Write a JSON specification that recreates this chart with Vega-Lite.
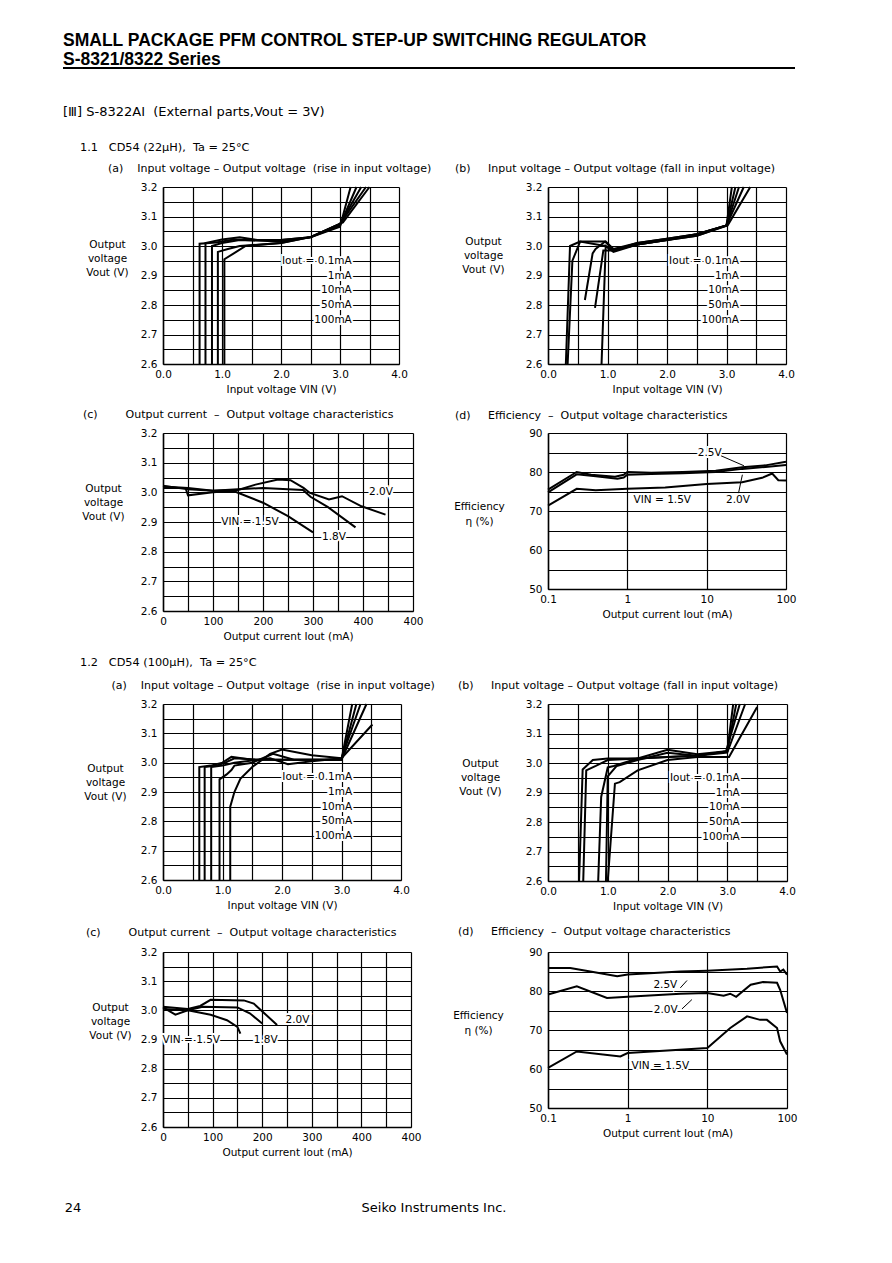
{
"$schema": "https://vega.github.io/schema/vega-lite/v6.json",
"background": "white",
"padding": {"left": 63, "top": 32, "right": 20, "bottom": 20},
"title": {"text": "SMALL PACKAGE PFM CONTROL STEP-UP SWITCHING REGULATOR", "subtitle": "S-8321/8322 Series", "anchor": "start", "frame": "group", "font": "Liberation Sans", "fontSize": 17.5, "fontWeight": "bold", "subtitleFontSize": 17.5, "subtitleFontWeight": "bold", "subtitleColor": "black", "subtitleFont": "Liberation Sans", "subtitlePadding": 1, "offset": -1},
"config": {
  "view": {"stroke": null},
  "font": "DejaVu Sans",
  "axis": {"domainColor": "black", "domainWidth": 1.5, "grid": true, "gridColor": "black", "gridOpacity": 1, "gridWidth": 1.2, "ticks": false, "labelColor": "black", "labelFont": "DejaVu Sans", "labelFontSize": 10.5, "labelFlush": false, "labelOverlap": false, "labelPadding": 5, "titleColor": "black", "titleFont": "DejaVu Sans", "titleFontSize": 10.5, "titleFontWeight": "normal", "titlePadding": 5},
  "axisY": {"labelPadding": 6},
  "title": {"anchor": "start", "frame": "group", "color": "black", "font": "DejaVu Sans", "fontSize": 11, "fontWeight": "normal", "offset": 8, "subtitleColor": "black", "subtitleFont": "DejaVu Sans", "subtitleFontSize": 11},
  "text": {"color": "black", "fontSize": 10.5, "font": "DejaVu Sans"},
  "line": {"color": "black", "strokeWidth": 2},
  "rule": {"color": "black"}
},
"datasets": {
  "c11a": [
    {"s":"0.1mA","i":0,"x":0.62,"y":2.6},{"s":"0.1mA","i":1,"x":0.62,"y":3.008},{"s":"0.1mA","i":2,"x":0.9,"y":3.012},{"s":"0.1mA","i":3,"x":1.2,"y":3.022},{"s":"0.1mA","i":4,"x":1.5,"y":3.02},{"s":"0.1mA","i":5,"x":2.0,"y":3.02},{"s":"0.1mA","i":6,"x":2.5,"y":3.03},{"s":"0.1mA","i":7,"x":3.0,"y":3.065},{"s":"0.1mA","i":8,"x":3.18,"y":3.2},
    {"s":"1mA","i":0,"x":0.72,"y":2.6},{"s":"1mA","i":1,"x":0.72,"y":3.01},{"s":"1mA","i":2,"x":1.0,"y":3.022},{"s":"1mA","i":3,"x":1.3,"y":3.03},{"s":"1mA","i":4,"x":1.6,"y":3.02},{"s":"1mA","i":5,"x":2.0,"y":3.02},{"s":"1mA","i":6,"x":2.5,"y":3.03},{"s":"1mA","i":7,"x":3.0,"y":3.07},{"s":"1mA","i":8,"x":3.28,"y":3.2},
    {"s":"10mA","i":0,"x":0.83,"y":2.6},{"s":"10mA","i":1,"x":0.83,"y":3.0},{"s":"10mA","i":2,"x":1.0,"y":3.01},{"s":"10mA","i":3,"x":1.3,"y":3.02},{"s":"10mA","i":4,"x":2.0,"y":3.015},{"s":"10mA","i":5,"x":2.5,"y":3.03},{"s":"10mA","i":6,"x":3.0,"y":3.075},{"s":"10mA","i":7,"x":3.36,"y":3.2},
    {"s":"50mA","i":0,"x":0.93,"y":2.6},{"s":"50mA","i":1,"x":0.93,"y":2.98},{"s":"50mA","i":2,"x":1.1,"y":2.99},{"s":"50mA","i":3,"x":1.3,"y":3.0},{"s":"50mA","i":4,"x":2.0,"y":3.01},{"s":"50mA","i":5,"x":2.5,"y":3.03},{"s":"50mA","i":6,"x":3.0,"y":3.075},{"s":"50mA","i":7,"x":3.44,"y":3.2},
    {"s":"100mA","i":0,"x":1.04,"y":2.6},{"s":"100mA","i":1,"x":1.04,"y":2.955},{"s":"100mA","i":2,"x":1.2,"y":2.975},{"s":"100mA","i":3,"x":1.4,"y":3.0},{"s":"100mA","i":4,"x":2.0,"y":3.01},{"s":"100mA","i":5,"x":2.5,"y":3.03},{"s":"100mA","i":6,"x":3.05,"y":3.08},{"s":"100mA","i":7,"x":3.5,"y":3.2}
  ],
  "c11a_lab": [
    {"t":"Iout = 0.1mA","x":3.2,"y":2.95},{"t":"1mA","x":3.2,"y":2.9},{"t":"10mA","x":3.2,"y":2.85},{"t":"50mA","x":3.2,"y":2.8},{"t":"100mA","x":3.2,"y":2.75}
  ],
  "c11b": [
    {"s":"0.1mA","i":0,"x":3.09,"y":3.2},{"s":"0.1mA","i":1,"x":3.0,"y":3.07},{"s":"0.1mA","i":2,"x":2.5,"y":3.04},{"s":"0.1mA","i":3,"x":2.0,"y":3.025},{"s":"0.1mA","i":4,"x":1.5,"y":3.01},{"s":"0.1mA","i":5,"x":1.1,"y":2.99},{"s":"0.1mA","i":6,"x":0.97,"y":3.015},{"s":"0.1mA","i":7,"x":0.54,"y":3.015},{"s":"0.1mA","i":8,"x":0.37,"y":3.0},{"s":"0.1mA","i":9,"x":0.3,"y":2.6},
    {"s":"1mA","i":0,"x":3.15,"y":3.2},{"s":"1mA","i":1,"x":3.0,"y":3.07},{"s":"1mA","i":2,"x":2.5,"y":3.04},{"s":"1mA","i":3,"x":2.0,"y":3.025},{"s":"1mA","i":4,"x":1.5,"y":3.01},{"s":"1mA","i":5,"x":1.1,"y":2.985},{"s":"1mA","i":6,"x":0.96,"y":3.0},{"s":"1mA","i":7,"x":0.54,"y":3.015},{"s":"1mA","i":8,"x":0.41,"y":2.95},{"s":"1mA","i":9,"x":0.33,"y":2.6},
    {"s":"10mA","i":0,"x":3.21,"y":3.2},{"s":"10mA","i":1,"x":3.0,"y":3.07},{"s":"10mA","i":2,"x":2.5,"y":3.04},{"s":"10mA","i":3,"x":2.0,"y":3.02},{"s":"10mA","i":4,"x":1.5,"y":3.005},{"s":"10mA","i":5,"x":1.1,"y":2.985},{"s":"10mA","i":6,"x":0.96,"y":3.015},{"s":"10mA","i":7,"x":0.8,"y":2.99},{"s":"10mA","i":8,"x":0.75,"y":2.975},{"s":"10mA","i":9,"x":0.62,"y":2.817},
    {"s":"50mA","i":0,"x":3.29,"y":3.2},{"s":"50mA","i":1,"x":3.0,"y":3.07},{"s":"50mA","i":2,"x":2.5,"y":3.035},{"s":"50mA","i":3,"x":2.0,"y":3.02},{"s":"50mA","i":4,"x":1.5,"y":3.005},{"s":"50mA","i":5,"x":1.1,"y":2.985},{"s":"50mA","i":6,"x":0.93,"y":2.985},{"s":"50mA","i":7,"x":0.79,"y":2.79},
    {"s":"100mA","i":0,"x":3.4,"y":3.2},{"s":"100mA","i":1,"x":3.02,"y":3.07},{"s":"100mA","i":2,"x":2.5,"y":3.035},{"s":"100mA","i":3,"x":2.0,"y":3.02},{"s":"100mA","i":4,"x":1.5,"y":3.005},{"s":"100mA","i":5,"x":1.1,"y":2.98},{"s":"100mA","i":6,"x":0.97,"y":3.0},{"s":"100mA","i":7,"x":0.9,"y":2.6}
  ],
  "c11b_lab": [
    {"t":"Iout = 0.1mA","x":3.21,"y":2.95},{"t":"1mA","x":3.21,"y":2.9},{"t":"10mA","x":3.21,"y":2.85},{"t":"50mA","x":3.21,"y":2.8},{"t":"100mA","x":3.21,"y":2.75}
  ],
  "c11c": [
    {"s":"1.5V","i":0,"x":0,"y":3.015},{"s":"1.5V","i":1,"x":45,"y":3.015},{"s":"1.5V","i":2,"x":50,"y":2.99},{"s":"1.5V","i":3,"x":100,"y":3.0},{"s":"1.5V","i":4,"x":140,"y":3.005},{"s":"1.5V","i":5,"x":200,"y":2.965},{"s":"1.5V","i":6,"x":250,"y":2.92},{"s":"1.5V","i":7,"x":300,"y":2.865},
    {"s":"1.8V","i":0,"x":0,"y":3.02},{"s":"1.8V","i":1,"x":50,"y":3.015},{"s":"1.8V","i":2,"x":100,"y":3.005},{"s":"1.8V","i":3,"x":150,"y":3.01},{"s":"1.8V","i":4,"x":200,"y":3.015},{"s":"1.8V","i":5,"x":250,"y":3.01},{"s":"1.8V","i":6,"x":280,"y":3.008},{"s":"1.8V","i":7,"x":295,"y":2.985},{"s":"1.8V","i":8,"x":330,"y":2.95},{"s":"1.8V","i":9,"x":385,"y":2.882},
    {"s":"2.0V","i":0,"x":0,"y":3.022},{"s":"2.0V","i":1,"x":50,"y":3.01},{"s":"2.0V","i":2,"x":100,"y":3.005},{"s":"2.0V","i":3,"x":150,"y":3.008},{"s":"2.0V","i":4,"x":185,"y":3.026},{"s":"2.0V","i":5,"x":230,"y":3.043},{"s":"2.0V","i":6,"x":255,"y":3.041},{"s":"2.0V","i":7,"x":281,"y":3.015},{"s":"2.0V","i":8,"x":294,"y":2.998},{"s":"2.0V","i":9,"x":332,"y":2.976},{"s":"2.0V","i":10,"x":358,"y":2.987},{"s":"2.0V","i":11,"x":397,"y":2.953},{"s":"2.0V","i":12,"x":445,"y":2.925}
  ],
  "c11c_lab": [
    {"t":"2.0V","x":436,"y":3.0},{"t":"VIN = 1.5V","x":174,"y":2.9},{"t":"1.8V","x":342,"y":2.85}
  ],
  "c11d": [
    {"s":"2.5V","i":0,"x":0.1,"y":75.5},{"s":"2.5V","i":1,"x":0.23,"y":80.0},{"s":"2.5V","i":2,"x":0.35,"y":79.3},{"s":"2.5V","i":3,"x":0.7,"y":78.8},{"s":"2.5V","i":4,"x":0.9,"y":79.3},{"s":"2.5V","i":5,"x":1.0,"y":80.0},{"s":"2.5V","i":6,"x":2,"y":79.8},{"s":"2.5V","i":7,"x":5,"y":80.0},{"s":"2.5V","i":8,"x":13,"y":80.3},{"s":"2.5V","i":9,"x":28,"y":81.2},{"s":"2.5V","i":10,"x":55,"y":81.7},{"s":"2.5V","i":11,"x":100,"y":82.6},
    {"s":"2.0V","i":0,"x":0.1,"y":74.8},{"s":"2.0V","i":1,"x":0.23,"y":79.4},{"s":"2.0V","i":2,"x":0.4,"y":78.9},{"s":"2.0V","i":3,"x":0.75,"y":78.3},{"s":"2.0V","i":4,"x":0.9,"y":78.6},{"s":"2.0V","i":5,"x":1.0,"y":79.3},{"s":"2.0V","i":6,"x":2,"y":79.5},{"s":"2.0V","i":7,"x":5,"y":79.7},{"s":"2.0V","i":8,"x":13,"y":80.0},{"s":"2.0V","i":9,"x":28,"y":80.8},{"s":"2.0V","i":10,"x":55,"y":81.3},{"s":"2.0V","i":11,"x":100,"y":81.8},
    {"s":"1.5V","i":0,"x":0.1,"y":71.4},{"s":"1.5V","i":1,"x":0.23,"y":75.7},{"s":"1.5V","i":2,"x":0.4,"y":75.3},{"s":"1.5V","i":3,"x":1.0,"y":75.7},{"s":"1.5V","i":4,"x":3,"y":76.0},{"s":"1.5V","i":5,"x":10,"y":76.9},{"s":"1.5V","i":6,"x":28,"y":77.4},{"s":"1.5V","i":7,"x":50,"y":78.5},{"s":"1.5V","i":8,"x":67,"y":79.6},{"s":"1.5V","i":9,"x":80,"y":77.9},{"s":"1.5V","i":10,"x":100,"y":77.8}
  ],
  "c11d_lab": [
    {"t":"2.5V","x":10.9,"y":85},{"t":"2.0V","x":24.8,"y":72.9},{"t":"VIN = 1.5V","x":2.76,"y":72.7}
  ],
  "c11d_lead": [
    {"x":15,"y":84.2,"x2":29.5,"y2":81.6},{"x":25.1,"y":74.4,"x2":28.2,"y2":79.3}
  ],
  "c12a": [
    {"s":"0.1mA","i":0,"x":0.61,"y":2.6},{"s":"0.1mA","i":1,"x":0.61,"y":2.985},{"s":"0.1mA","i":2,"x":0.8,"y":2.99},{"s":"0.1mA","i":3,"x":1.0,"y":3.0},{"s":"0.1mA","i":4,"x":1.15,"y":3.02},{"s":"0.1mA","i":5,"x":1.5,"y":3.01},{"s":"0.1mA","i":6,"x":2.0,"y":3.01},{"s":"0.1mA","i":7,"x":2.5,"y":3.01},{"s":"0.1mA","i":8,"x":3.0,"y":3.01},{"s":"0.1mA","i":9,"x":3.18,"y":3.2},
    {"s":"1mA","i":0,"x":0.7,"y":2.6},{"s":"1mA","i":1,"x":0.7,"y":2.985},{"s":"1mA","i":2,"x":0.9,"y":2.99},{"s":"1mA","i":3,"x":1.05,"y":3.0},{"s":"1mA","i":4,"x":1.2,"y":3.015},{"s":"1mA","i":5,"x":1.6,"y":3.01},{"s":"1mA","i":6,"x":2.5,"y":3.01},{"s":"1mA","i":7,"x":3.0,"y":3.01},{"s":"1mA","i":8,"x":3.25,"y":3.2},
    {"s":"10mA","i":0,"x":0.81,"y":2.6},{"s":"10mA","i":1,"x":0.81,"y":2.985},{"s":"10mA","i":2,"x":1.0,"y":2.99},{"s":"10mA","i":3,"x":1.2,"y":3.0},{"s":"10mA","i":4,"x":1.6,"y":3.01},{"s":"10mA","i":5,"x":1.8,"y":3.015},{"s":"10mA","i":6,"x":2.1,"y":2.995},{"s":"10mA","i":7,"x":2.5,"y":3.005},{"s":"10mA","i":8,"x":3.0,"y":3.015},{"s":"10mA","i":9,"x":3.32,"y":3.2},
    {"s":"50mA","i":0,"x":0.95,"y":2.6},{"s":"50mA","i":1,"x":0.95,"y":2.943},{"s":"50mA","i":2,"x":1.07,"y":2.96},{"s":"50mA","i":3,"x":1.15,"y":2.975},{"s":"50mA","i":4,"x":1.2,"y":2.99},{"s":"50mA","i":5,"x":1.5,"y":3.0},{"s":"50mA","i":6,"x":1.85,"y":3.03},{"s":"50mA","i":7,"x":2.2,"y":3.01},{"s":"50mA","i":8,"x":3.0,"y":3.01},{"s":"50mA","i":9,"x":3.42,"y":3.2},
    {"s":"100mA","i":0,"x":1.13,"y":2.6},{"s":"100mA","i":1,"x":1.13,"y":2.85},{"s":"100mA","i":2,"x":1.2,"y":2.9},{"s":"100mA","i":3,"x":1.3,"y":2.945},{"s":"100mA","i":4,"x":1.5,"y":2.985},{"s":"100mA","i":5,"x":1.8,"y":3.03},{"s":"100mA","i":6,"x":2.0,"y":3.045},{"s":"100mA","i":7,"x":2.5,"y":3.025},{"s":"100mA","i":8,"x":3.0,"y":3.015},{"s":"100mA","i":9,"x":3.52,"y":3.13}
  ],
  "c12a_lab": [
    {"t":"Iout = 0.1mA","x":3.18,"y":2.95},{"t":"1mA","x":3.18,"y":2.9},{"t":"10mA","x":3.18,"y":2.85},{"t":"50mA","x":3.18,"y":2.8},{"t":"100mA","x":3.18,"y":2.75}
  ],
  "c12b": [
    {"s":"0.1mA","i":0,"x":3.1,"y":3.2},{"s":"0.1mA","i":1,"x":3.0,"y":3.04},{"s":"0.1mA","i":2,"x":2.5,"y":3.025},{"s":"0.1mA","i":3,"x":2.0,"y":3.02},{"s":"0.1mA","i":4,"x":1.5,"y":3.015},{"s":"0.1mA","i":5,"x":1.0,"y":3.015},{"s":"0.1mA","i":6,"x":0.75,"y":3.01},{"s":"0.1mA","i":7,"x":0.58,"y":2.978},{"s":"0.1mA","i":8,"x":0.52,"y":2.6},
    {"s":"1mA","i":0,"x":3.15,"y":3.2},{"s":"1mA","i":1,"x":3.0,"y":3.04},{"s":"1mA","i":2,"x":2.5,"y":3.025},{"s":"1mA","i":3,"x":2.0,"y":3.02},{"s":"1mA","i":4,"x":1.5,"y":3.015},{"s":"1mA","i":5,"x":1.0,"y":3.01},{"s":"1mA","i":6,"x":0.8,"y":2.99},{"s":"1mA","i":7,"x":0.64,"y":2.975},{"s":"1mA","i":8,"x":0.59,"y":2.6},
    {"s":"10mA","i":0,"x":3.21,"y":3.2},{"s":"10mA","i":1,"x":2.98,"y":3.04},{"s":"10mA","i":2,"x":2.5,"y":3.03},{"s":"10mA","i":3,"x":2.0,"y":3.045},{"s":"10mA","i":4,"x":1.5,"y":3.015},{"s":"10mA","i":5,"x":1.1,"y":2.99},{"s":"10mA","i":6,"x":1.0,"y":2.985},{"s":"10mA","i":7,"x":0.89,"y":2.885},{"s":"10mA","i":8,"x":0.84,"y":2.6},
    {"s":"50mA","i":0,"x":3.3,"y":3.2},{"s":"50mA","i":1,"x":3.0,"y":3.035},{"s":"50mA","i":2,"x":2.5,"y":3.025},{"s":"50mA","i":3,"x":2.0,"y":3.035},{"s":"50mA","i":4,"x":1.5,"y":3.01},{"s":"50mA","i":5,"x":1.15,"y":2.99},{"s":"50mA","i":6,"x":1.0,"y":2.955},{"s":"50mA","i":7,"x":0.97,"y":2.6},
    {"s":"100mA","i":0,"x":3.5,"y":3.19},{"s":"100mA","i":1,"x":3.03,"y":3.02},{"s":"100mA","i":2,"x":2.5,"y":3.02},{"s":"100mA","i":3,"x":2.0,"y":3.01},{"s":"100mA","i":4,"x":1.5,"y":2.975},{"s":"100mA","i":5,"x":1.2,"y":2.935},{"s":"100mA","i":6,"x":1.12,"y":2.93},{"s":"100mA","i":7,"x":1.0,"y":2.6}
  ],
  "c12b_lab": [
    {"t":"Iout = 0.1mA","x":3.21,"y":2.95},{"t":"1mA","x":3.21,"y":2.9},{"t":"10mA","x":3.21,"y":2.85},{"t":"50mA","x":3.21,"y":2.8},{"t":"100mA","x":3.21,"y":2.75}
  ],
  "c12c": [
    {"s":"1.5V","i":0,"x":0,"y":3.005},{"s":"1.5V","i":1,"x":50,"y":3.0},{"s":"1.5V","i":2,"x":96,"y":2.985},{"s":"1.5V","i":3,"x":129,"y":2.966},{"s":"1.5V","i":4,"x":150,"y":2.943},{"s":"1.5V","i":5,"x":156,"y":2.92},
    {"s":"1.8V","i":0,"x":0,"y":3.01},{"s":"1.8V","i":1,"x":25,"y":2.985},{"s":"1.8V","i":2,"x":50,"y":3.0},{"s":"1.8V","i":3,"x":80,"y":3.012},{"s":"1.8V","i":4,"x":150,"y":3.01},{"s":"1.8V","i":5,"x":175,"y":2.99},{"s":"1.8V","i":6,"x":200,"y":2.955},
    {"s":"2.0V","i":0,"x":0,"y":3.012},{"s":"2.0V","i":1,"x":50,"y":3.005},{"s":"2.0V","i":2,"x":75,"y":3.015},{"s":"2.0V","i":3,"x":96,"y":3.036},{"s":"2.0V","i":4,"x":163,"y":3.034},{"s":"2.0V","i":5,"x":183,"y":3.023},{"s":"2.0V","i":6,"x":230,"y":2.95}
  ],
  "c12c_lab": [
    {"t":"2.0V","x":271,"y":2.966},{"t":"VIN = 1.5V","x":57,"y":2.9},{"t":"1.8V","x":207,"y":2.9}
  ],
  "c12d": [
    {"s":"2.5V","i":0,"x":0.1,"y":85.9},{"s":"2.5V","i":1,"x":0.19,"y":85.9},{"s":"2.5V","i":2,"x":0.34,"y":85.0},{"s":"2.5V","i":3,"x":0.74,"y":83.8},{"s":"2.5V","i":4,"x":1.0,"y":84.2},{"s":"2.5V","i":5,"x":4.6,"y":85.0},{"s":"2.5V","i":6,"x":10,"y":85.2},{"s":"2.5V","i":7,"x":31.5,"y":85.7},{"s":"2.5V","i":8,"x":75,"y":86.3},{"s":"2.5V","i":9,"x":82,"y":85.0},{"s":"2.5V","i":10,"x":90,"y":85.5},{"s":"2.5V","i":11,"x":100,"y":84.2},
    {"s":"2.0V","i":0,"x":0.1,"y":79.1},{"s":"2.0V","i":1,"x":0.23,"y":81.2},{"s":"2.0V","i":2,"x":0.55,"y":78.2},{"s":"2.0V","i":3,"x":1.0,"y":78.5},{"s":"2.0V","i":4,"x":4.6,"y":79.3},{"s":"2.0V","i":5,"x":10,"y":79.5},{"s":"2.0V","i":6,"x":16,"y":78.8},{"s":"2.0V","i":7,"x":19.4,"y":79.3},{"s":"2.0V","i":8,"x":23,"y":78.5},{"s":"2.0V","i":9,"x":35,"y":81.6},{"s":"2.0V","i":10,"x":50,"y":82.3},{"s":"2.0V","i":11,"x":75,"y":82.1},{"s":"2.0V","i":12,"x":82,"y":80.3},{"s":"2.0V","i":13,"x":100,"y":74.4},
    {"s":"1.5V","i":0,"x":0.1,"y":60.3},{"s":"1.5V","i":1,"x":0.23,"y":64.5},{"s":"1.5V","i":2,"x":0.81,"y":63.2},{"s":"1.5V","i":3,"x":1.0,"y":64.1},{"s":"1.5V","i":4,"x":10,"y":65.4},{"s":"1.5V","i":5,"x":19.4,"y":70.5},{"s":"1.5V","i":6,"x":31.5,"y":73.5},{"s":"1.5V","i":7,"x":46,"y":72.6},{"s":"1.5V","i":8,"x":56,"y":72.6},{"s":"1.5V","i":9,"x":75,"y":70.5},{"s":"1.5V","i":10,"x":82,"y":67.1},{"s":"1.5V","i":11,"x":100,"y":63.7}
  ],
  "c12d_lab": [
    {"t":"2.5V","x":2.97,"y":81.6},{"t":"2.0V","x":3.0,"y":75.2},{"t":"VIN = 1.5V","x":2.57,"y":60.7}
  ],
  "c12d_lead": [
    {"x":4.58,"y":80.8,"x2":5.56,"y2":82.7},{"x":4.8,"y":75.4,"x2":6.4,"y2":77.8}
  ]
},
"bounds": "flush",
"spacing": 100,
"hconcat": [
  {"bounds": "flush", "spacing": 0, "vconcat": [
    {"width": 732, "height": 2,
     "title": {"text": "[Ⅲ] S-8322AI\u00a0\u00a0(External parts,Vout = 3V)", "orient": "bottom", "offset": 37, "fontSize": 13},
     "data": {"values": [{}]}, "mark": {"type": "rect", "color": "black"}, "encoding": {}},
    {"width": 1, "height": 1130, "data": {"values": []}, "mark": "point", "encoding": {}},
    {"width": 20, "height": 18, "data": {"values": [{"t": "24"}]}, "mark": {"type": "text", "fontSize": 13}, "encoding": {"text": {"field": "t"}}}
  ]},
  {"bounds": "flush", "spacing": 385, "hconcat": [
    {"bounds": "flush", "spacing": 0, "vconcat": [
      {"width": 1, "height": 120, "data": {"values": []}, "mark": "point", "encoding": {}},
      {"width": 236, "height": 177,
       "title": {"text": "1.1\u00a0\u00a0\u00a0CD54 (22µH),\u00a0\u00a0Ta = 25°C", "subtitle": "\u200b\u00a0\u00a0\u00a0\u00a0\u00a0\u00a0\u00a0\u00a0(a)\u00a0\u00a0\u00a0\u00a0Input voltage\u00a0–\u00a0Output voltage\u00a0\u00a0(rise in input voltage)", "dx": -83, "fontSize": 11.3, "subtitlePadding": 10},
       "data": {"name": "c11a"},
       "encoding": {
         "x": {"field": "x", "type": "quantitative", "scale": {"domain": [0, 4], "nice": false}, "axis": {"values": [0,0.5,1,1.5,2,2.5,3,3.5,4], "labelExpr": "datum.value % 1 === 0 ? format(datum.value, '.1f') : ''", "title": "Input voltage  VIN (V)"}},
         "y": {"field": "y", "type": "quantitative", "scale": {"domain": [2.6, 3.2], "nice": false, "zero": false}, "axis": {"values": [2.6,2.65,2.7,2.75,2.8,2.85,2.9,2.95,3.0,3.05,3.1,3.15,3.2], "labelExpr": "abs(datum.value*10 - round(datum.value*10)) < 0.01 ? format(datum.value, '.1f') : ''", "title": ["Output", "voltage", "Vout (V)"], "titleAngle": 0, "titleAlign": "center", "titleBaseline": "top", "titleX": -56, "titleY": 52, "titleLineHeight": 14}}
       },
       "layer": [
         {"mark": {"type": "line"}, "encoding": {"detail": {"field": "s"}, "order": {"field": "i"}}},
         {"data": {"name": "c11a_lab"}, "mark": {"type": "text", "align": "right", "fill": "white", "stroke": "white", "strokeWidth": 4}, "encoding": {"text": {"field": "t"}}},
         {"data": {"name": "c11a_lab"}, "mark": {"type": "text", "align": "right"}, "encoding": {"text": {"field": "t"}}}
       ]
      },
      {"width": 1, "height": 69, "data": {"values": []}, "mark": "point", "encoding": {}},
      {"width": 250, "height": 178,
       "title": {"text": "(c)\u00a0\u00a0\u00a0\u00a0\u00a0\u00a0\u00a0\u00a0Output current\u00a0\u00a0–\u00a0\u00a0Output voltage characteristics", "dx": -80},
       "data": {"name": "c11c"},
       "encoding": {
         "x": {"field": "x", "type": "quantitative", "scale": {"domain": [0, 500], "nice": false}, "axis": {"values": [0,50,100,150,200,250,300,350,400,450,500], "labelExpr": "datum.value === 500 ? '400' : (datum.value % 100 === 0 ? format(datum.value, 'd') : '')", "title": "Output current  Iout (mA)"}},
         "y": {"field": "y", "type": "quantitative", "scale": {"domain": [2.6, 3.2], "nice": false, "zero": false}, "axis": {"values": [2.6,2.65,2.7,2.75,2.8,2.85,2.9,2.95,3.0,3.05,3.1,3.15,3.2], "labelExpr": "abs(datum.value*10 - round(datum.value*10)) < 0.01 ? format(datum.value, '.1f') : ''", "title": ["Output", "voltage", "Vout (V)"], "titleAngle": 0, "titleAlign": "center", "titleBaseline": "top", "titleX": -60, "titleY": 50, "titleLineHeight": 14}}
       },
       "layer": [
         {"mark": {"type": "line"}, "encoding": {"detail": {"field": "s"}, "order": {"field": "i"}}},
         {"data": {"name": "c11c_lab"}, "mark": {"type": "text", "fill": "white", "stroke": "white", "strokeWidth": 4}, "encoding": {"text": {"field": "t"}}},
         {"data": {"name": "c11c_lab"}, "mark": {"type": "text"}, "encoding": {"text": {"field": "t"}}}
       ]
      },
      {"width": 1, "height": 93, "data": {"values": []}, "mark": "point", "encoding": {}},
      {"width": 238, "height": 176,
       "title": {"text": "1.2\u00a0\u00a0\u00a0CD54 (100µH),\u00a0\u00a0Ta = 25°C", "subtitle": "\u200b\u00a0\u00a0\u00a0\u00a0\u00a0\u00a0\u00a0\u00a0\u00a0(a)\u00a0\u00a0\u00a0\u00a0Input voltage\u00a0–\u00a0Output voltage\u00a0\u00a0(rise in input voltage)", "dx": -83, "fontSize": 11.3, "subtitlePadding": 12},
       "data": {"name": "c12a"},
       "encoding": {
         "x": {"field": "x", "type": "quantitative", "scale": {"domain": [0, 4], "nice": false}, "axis": {"values": [0,0.5,1,1.5,2,2.5,3,3.5,4], "labelExpr": "datum.value % 1 === 0 ? format(datum.value, '.1f') : ''", "title": "Input voltage  VIN (V)"}},
         "y": {"field": "y", "type": "quantitative", "scale": {"domain": [2.6, 3.2], "nice": false, "zero": false}, "axis": {"values": [2.6,2.65,2.7,2.75,2.8,2.85,2.9,2.95,3.0,3.05,3.1,3.15,3.2], "labelExpr": "abs(datum.value*10 - round(datum.value*10)) < 0.01 ? format(datum.value, '.1f') : ''", "title": ["Output", "voltage", "Vout (V)"], "titleAngle": 0, "titleAlign": "center", "titleBaseline": "top", "titleX": -58, "titleY": 59, "titleLineHeight": 14}}
       },
       "layer": [
         {"mark": {"type": "line"}, "encoding": {"detail": {"field": "s"}, "order": {"field": "i"}}},
         {"data": {"name": "c12a_lab"}, "mark": {"type": "text", "align": "right", "fill": "white", "stroke": "white", "strokeWidth": 4}, "encoding": {"text": {"field": "t"}}},
         {"data": {"name": "c12a_lab"}, "mark": {"type": "text", "align": "right"}, "encoding": {"text": {"field": "t"}}}
       ]
      },
      {"width": 1, "height": 72, "data": {"values": []}, "mark": "point", "encoding": {}},
      {"width": 248, "height": 175,
       "title": {"text": "(c)\u00a0\u00a0\u00a0\u00a0\u00a0\u00a0\u00a0\u00a0Output current\u00a0\u00a0–\u00a0\u00a0Output voltage characteristics", "dx": -77, "offset": 9},
       "data": {"name": "c12c"},
       "encoding": {
         "x": {"field": "x", "type": "quantitative", "scale": {"domain": [0, 500], "nice": false}, "axis": {"values": [0,50,100,150,200,250,300,350,400,450,500], "labelExpr": "datum.value === 500 ? '400' : (datum.value % 100 === 0 ? format(datum.value, 'd') : '')", "title": "Output current  Iout (mA)"}},
         "y": {"field": "y", "type": "quantitative", "scale": {"domain": [2.6, 3.2], "nice": false, "zero": false}, "axis": {"values": [2.6,2.65,2.7,2.75,2.8,2.85,2.9,2.95,3.0,3.05,3.1,3.15,3.2], "labelExpr": "abs(datum.value*10 - round(datum.value*10)) < 0.01 ? format(datum.value, '.1f') : ''", "title": ["Output", "voltage", "Vout (V)"], "titleAngle": 0, "titleAlign": "center", "titleBaseline": "top", "titleX": -53, "titleY": 50, "titleLineHeight": 14}}
       },
       "layer": [
         {"mark": {"type": "line"}, "encoding": {"detail": {"field": "s"}, "order": {"field": "i"}}},
         {"data": {"name": "c12c_lab"}, "mark": {"type": "text", "fill": "white", "stroke": "white", "strokeWidth": 4}, "encoding": {"text": {"field": "t"}}},
         {"data": {"name": "c12c_lab"}, "mark": {"type": "text"}, "encoding": {"text": {"field": "t"}}}
       ]
      },
      {"width": 1, "height": 72, "data": {"values": []}, "mark": "point", "encoding": {}},
      {"width": 542, "height": 18, "data": {"values": [{"t": "Seiko Instruments Inc."}]}, "mark": {"type": "text", "fontSize": 13}, "encoding": {"text": {"field": "t"}}}
    ]},
    {"bounds": "flush", "spacing": 0, "vconcat": [
      {"width": 1, "height": 120, "data": {"values": []}, "mark": "point", "encoding": {}},
      {"width": 238, "height": 177,
       "title": {"text": "(b)\u00a0\u00a0\u00a0\u00a0\u00a0Input voltage – Output voltage (fall in input voltage)", "dx": -93},
       "data": {"name": "c11b"},
       "encoding": {
         "x": {"field": "x", "type": "quantitative", "scale": {"domain": [0, 4], "nice": false}, "axis": {"values": [0,0.5,1,1.5,2,2.5,3,3.5,4], "labelExpr": "datum.value % 1 === 0 ? format(datum.value, '.1f') : ''", "title": "Input voltage  VIN (V)"}},
         "y": {"field": "y", "type": "quantitative", "scale": {"domain": [2.6, 3.2], "nice": false, "zero": false}, "axis": {"values": [2.6,2.65,2.7,2.75,2.8,2.85,2.9,2.95,3.0,3.05,3.1,3.15,3.2], "labelExpr": "abs(datum.value*10 - round(datum.value*10)) < 0.01 ? format(datum.value, '.1f') : ''", "title": ["Output", "voltage", "Vout (V)"], "titleAngle": 0, "titleAlign": "center", "titleBaseline": "top", "titleX": -65, "titleY": 49, "titleLineHeight": 14}}
       },
       "layer": [
         {"mark": {"type": "line"}, "encoding": {"detail": {"field": "s"}, "order": {"field": "i"}}},
         {"data": {"name": "c11b_lab"}, "mark": {"type": "text", "align": "right", "fill": "white", "stroke": "white", "strokeWidth": 4}, "encoding": {"text": {"field": "t"}}},
         {"data": {"name": "c11b_lab"}, "mark": {"type": "text", "align": "right"}, "encoding": {"text": {"field": "t"}}}
       ]
      },
      {"width": 1, "height": 69, "data": {"values": []}, "mark": "point", "encoding": {}},
      {"width": 238, "height": 156,
       "title": {"text": "(d)\u00a0\u00a0\u00a0\u00a0\u00a0Efficiency\u00a0\u00a0–\u00a0\u00a0Output voltage characteristics", "dx": -93, "offset": 7},
       "data": {"name": "c11d"},
       "encoding": {
         "x": {"field": "x", "type": "quantitative", "scale": {"type": "log", "domain": [0.1, 100], "nice": false}, "axis": {"values": [0.1, 1, 10, 100], "labelExpr": "format(datum.value, '~g')", "title": "Output current  Iout (mA)"}},
         "y": {"field": "y", "type": "quantitative", "scale": {"domain": [50, 90], "nice": false, "zero": false}, "axis": {"values": [50,55,60,65,70,75,80,85,90], "labelExpr": "datum.value % 10 === 0 ? format(datum.value, 'd') : ''", "title": ["Efficiency", "η (%)"], "titleAngle": 0, "titleAlign": "center", "titleBaseline": "top", "titleX": -69, "titleY": 68, "titleLineHeight": 15}}
       },
       "layer": [
         {"mark": {"type": "line"}, "encoding": {"detail": {"field": "s"}, "order": {"field": "i"}}},
         {"data": {"name": "c11d_lead"}, "mark": {"type": "rule", "strokeWidth": 1}, "encoding": {"x2": {"field": "x2"}, "y2": {"field": "y2"}}},
         {"data": {"name": "c11d_lab"}, "mark": {"type": "text", "fill": "white", "stroke": "white", "strokeWidth": 4}, "encoding": {"text": {"field": "t"}}},
         {"data": {"name": "c11d_lab"}, "mark": {"type": "text"}, "encoding": {"text": {"field": "t"}}}
       ]
      },
      {"width": 1, "height": 115, "data": {"values": []}, "mark": "point", "encoding": {}},
      {"width": 239, "height": 177,
       "title": {"text": "(b)\u00a0\u00a0\u00a0\u00a0\u00a0Input voltage – Output voltage (fall in input voltage)", "dx": -90},
       "data": {"name": "c12b"},
       "encoding": {
         "x": {"field": "x", "type": "quantitative", "scale": {"domain": [0, 4], "nice": false}, "axis": {"values": [0,0.5,1,1.5,2,2.5,3,3.5,4], "labelExpr": "datum.value % 1 === 0 ? format(datum.value, '.1f') : ''", "title": "Input voltage  VIN (V)"}},
         "y": {"field": "y", "type": "quantitative", "scale": {"domain": [2.6, 3.2], "nice": false, "zero": false}, "axis": {"values": [2.6,2.65,2.7,2.75,2.8,2.85,2.9,2.95,3.0,3.05,3.1,3.15,3.2], "labelExpr": "abs(datum.value*10 - round(datum.value*10)) < 0.01 ? format(datum.value, '.1f') : ''", "title": ["Output", "voltage", "Vout (V)"], "titleAngle": 0, "titleAlign": "center", "titleBaseline": "top", "titleX": -68, "titleY": 54, "titleLineHeight": 14}}
       },
       "layer": [
         {"mark": {"type": "line"}, "encoding": {"detail": {"field": "s"}, "order": {"field": "i"}}},
         {"data": {"name": "c12b_lab"}, "mark": {"type": "text", "align": "right", "fill": "white", "stroke": "white", "strokeWidth": 4}, "encoding": {"text": {"field": "t"}}},
         {"data": {"name": "c12b_lab"}, "mark": {"type": "text", "align": "right"}, "encoding": {"text": {"field": "t"}}}
       ]
      },
      {"width": 1, "height": 71, "data": {"values": []}, "mark": "point", "encoding": {}},
      {"width": 239, "height": 156,
       "title": {"text": "(d)\u00a0\u00a0\u00a0\u00a0\u00a0Efficiency\u00a0\u00a0–\u00a0\u00a0Output voltage characteristics", "dx": -90, "offset": 10},
       "data": {"name": "c12d"},
       "encoding": {
         "x": {"field": "x", "type": "quantitative", "scale": {"type": "log", "domain": [0.1, 100], "nice": false}, "axis": {"values": [0.1, 1, 10, 100], "labelExpr": "format(datum.value, '~g')", "title": "Output current  Iout (mA)"}},
         "y": {"field": "y", "type": "quantitative", "scale": {"domain": [50, 90], "nice": false, "zero": false}, "axis": {"values": [50,55,60,65,70,75,80,85,90], "labelExpr": "datum.value % 10 === 0 ? format(datum.value, 'd') : ''", "title": ["Efficiency", "η (%)"], "titleAngle": 0, "titleAlign": "center", "titleBaseline": "top", "titleX": -70, "titleY": 58, "titleLineHeight": 15}}
       },
       "layer": [
         {"mark": {"type": "line"}, "encoding": {"detail": {"field": "s"}, "order": {"field": "i"}}},
         {"data": {"name": "c12d_lead"}, "mark": {"type": "rule", "strokeWidth": 1}, "encoding": {"x2": {"field": "x2"}, "y2": {"field": "y2"}}},
         {"data": {"name": "c12d_lab"}, "mark": {"type": "text", "fill": "white", "stroke": "white", "strokeWidth": 4}, "encoding": {"text": {"field": "t"}}},
         {"data": {"name": "c12d_lab"}, "mark": {"type": "text"}, "encoding": {"text": {"field": "t"}}}
       ]
      }
    ]}
  ]}
]
}
